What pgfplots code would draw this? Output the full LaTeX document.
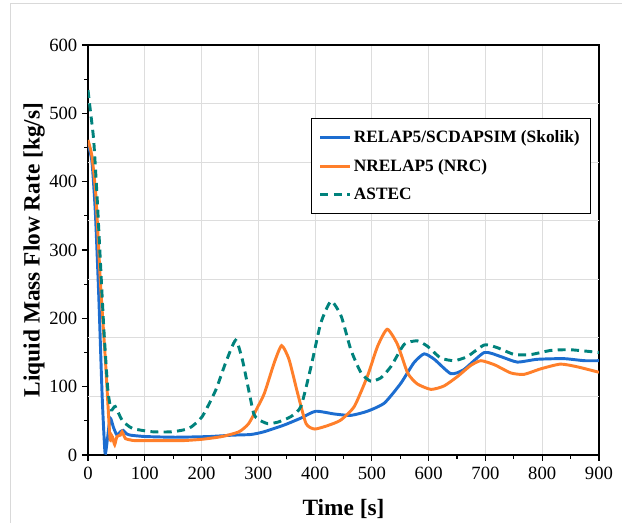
\documentclass[border=0pt]{standalone}
\usepackage{fontspec}
\setmainfont{Liberation Serif}
\usepackage{pgfplots}
\pgfplotsset{compat=1.18}
\definecolor{cblue}{HTML}{1C6DD0}
\definecolor{corange}{HTML}{FF7F2A}
\definecolor{cteal}{HTML}{00827C}
\begin{document}
\begin{tikzpicture}
\useasboundingbox (-66pt,-51pt) rectangle (400.5pt,341.25pt);
\draw[gray!30, line width=0.6pt] (-58pt,-51pt) -- (-58pt,339pt) -- (400.5pt,339pt);
\begin{axis}[
  at={(0,0)}, anchor=south west,
  scale only axis, width=383.25pt, height=307.5pt,
  xmin=0, xmax=900, ymin=0, ymax=600,
  xtick={0,100,...,900}, ytick={0,100,...,600},
  minor x tick num=1, minor y tick num=1,
  tick align=outside, xtick pos=left, ytick pos=left,
  major tick length=4.5pt, minor tick length=2.8pt,
  every tick/.style={black, line width=0.9pt},
  axis line style={black, line width=1.3pt},
  xmajorgrids=true, ymajorgrids=false,
  major grid style={gray!27, line width=0.9pt},
  extra y ticks={85.714,171.429,257.143,342.857,428.571,514.286},
  extra y tick labels={},
  extra y tick style={ymajorgrids=true, major tick length=0pt, tick style={draw=none}},
  /pgf/number format/assume math mode=true,
  ticklabel style={font=\fontsize{14}{16}\selectfont},
  xticklabel style={yshift=-1pt},
  xlabel={\textbf{Time [s]}},
  ylabel={\textbf{Liquid Mass Flow Rate [kg/s]}},
  label style={font=\fontsize{17.5}{20}\selectfont},
  xlabel style={yshift=-8pt},
  ylabel style={yshift=-8pt},
  legend style={at={(0.984,0.822)}, anchor=north east, draw=black, line width=0.6pt,
    font=\bfseries\fontsize{13}{15}\selectfont, row sep=7pt, inner xsep=6pt, inner ysep=7pt},
  legend image code/.code={\draw[#1] (0pt,0pt) -- (22pt,0pt);},
  legend cell align=left,
]
\addplot[cblue, line width=2.2pt, smooth, tension=0.35] coordinates {
(0,456)(7,429)(13,354)(19,232)(25,85)(30,3)(34,22)(39,54)(45,40)(51,29)(57,34)(62,36)(68,31)(75,29)
(101,27)(154,26)(213,27)(254,29)(287,30)(310,34)(346,44)(375,54)(401,64)(434,60)(463,58)(492,64)
(522,76)(551,105)(574,135)(592,148)(610,140)(639,119)(662,125)(698,150)(727,144)(756,136)(791,140)
(838,141)(874,138)(900,138)};
\addlegendentry{RELAP5/SCDAPSIM (Skolik)}
\addplot[corange, line width=2.2pt, smooth, tension=0.35] coordinates {
(0,461)(7,437)(14,378)(22,251)(31,134)(36,61)(39,22)(42,28)(44,24)(47,15)(51,27)(57,29)(60,34)(66,24)
(75,22)(83,21)(125,21)(166,21)(201,23)(236,27)(266,34)(283,46)(300,72)(311,91)(328,135)(341,160)
(354,140)(369,91)(384,46)(399,38)(422,43)(445,51)(469,71)(492,115)(510,159)(527,184)(545,162)
(563,120)(580,104)(604,96)(627,101)(651,115)(674,131)(692,138)(716,132)(745,120)(768,118)(797,126)
(832,133)(862,129)(900,121)};
\addlegendentry{NRELAP5 (NRC)}
\addplot[cteal, line width=2.2pt, dash pattern=on 6pt off 4pt, smooth, tension=0.35] coordinates {
(0,534)(4,505)(10,461)(16,378)(22,280)(28,183)(35,95)(41,66)(48,71)(60,51)(78,39)(113,34)(148,34)
(178,39)(201,56)(225,95)(242,134)(260,168)(272,139)(283,95)(292,60)(300,52)(316,46)(334,48)(357,56)
(375,71)(393,130)(410,193)(428,225)(446,203)(463,154)(481,120)(498,108)(516,113)(534,130)(557,162)
(580,167)(598,159)(621,142)(645,138)(668,144)(698,161)(721,157)(751,147)(780,147)(815,153)(850,154)
(900,150)};
\addlegendentry{ASTEC}
\end{axis}
\end{tikzpicture}
\end{document}
